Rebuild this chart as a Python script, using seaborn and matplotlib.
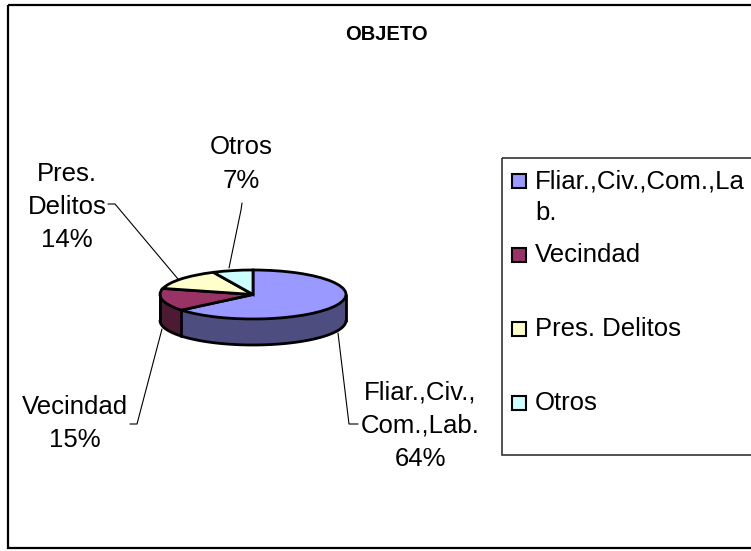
import numpy as np
import matplotlib
matplotlib.use("Agg")
import matplotlib.pyplot as plt
from matplotlib.patches import Rectangle
import seaborn as sns

categorias = ["Fliar.,Civ.,Com.,Lab.", "Vecindad", "Pres. Delitos", "Otros"]
valores = [64, 15, 14, 7]
etiquetas_leyenda = ["Fliar.,Civ.,Com.,La\nb.", "Vecindad", "Pres. Delitos", "Otros"]
colores = ["#9999ff", "#993366", "#ffffcc", "#ccffff"]
colores_lado = ["#4d4d80", "#4d1a33"]

W, H = 751, 551

sns.set_theme(style="white")
plt.rcParams["font.family"] = ["Liberation Sans", "DejaVu Sans"]

fig = plt.figure(figsize=(W / 100, H / 100), dpi=100)

# capa de fondo en pixeles, para marco, textos y leyenda
fondo = fig.add_axes([0, 0, 1, 1])
fondo.set_xlim(0, W)
fondo.set_ylim(H, 0)
fondo.axis("off")
# el borde derecho queda fuera de la imagen
fondo.add_patch(Rectangle((8, 4.5), 760, 543.5, fill=False, ec="black", lw=1.6))
fondo.text(386, 34.5, "OBJETO", fontsize=14.5, fontweight="bold", color="black",
           ha="center", va="center")

# torta aplastada: los ejes cubren solo la elipse superior
x0, x1, y0, y1 = 160, 346, 270, 319
prof = 26 / ((y1 - y0) / 2)
ax = fig.add_axes([x0 / W, 1 - y1 / H, (x1 - x0) / W, (y1 - y0) / H])
ax.patch.set_alpha(0)

# pared lateral, solo la mitad frontal se ve
angulos = 90 - np.cumsum([0] + valores) * 3.6
for i in range(2):
    ini, fin = angulos[i + 1] % 360, angulos[i] % 360
    a = np.radians(np.linspace(max(ini, 180), 360 if i == 0 else fin, 60))
    xs = np.cos(a)
    ys = np.sin(a)
    ax.fill_between(xs, ys - prof, ys, color=colores_lado[i], lw=0, clip_on=False)
    ax.plot(xs, ys - prof, color="black", lw=2, clip_on=False)
    ax.plot([xs[0], xs[0]], [ys[0], ys[0] - prof], color="black", lw=2, clip_on=False)
ax.plot([1, 1], [0, -prof], color="black", lw=2, clip_on=False)
ax.plot([-1, -1], [0, -prof], color="black", lw=2, clip_on=False)

ax.pie(valores, colors=colores, startangle=90, counterclock=False, radius=1,
       wedgeprops={"edgecolor": "black", "linewidth": 2, "clip_on": False})
ax.set_aspect("auto")
ax.set_xlim(-1, 1)
ax.set_ylim(-1, 1)
ax.axis("off")

# rotulos de datos con sus lineas guia
tam = 18.5
rotulos = [
    ("Fliar.,Civ.,\nCom.,Lab.\n%d%%" % valores[0], 420, 426),
    ("Vecindad\n%d%%" % valores[1], 75, 423.5),
    ("Pres.\nDelitos\n%d%%" % valores[2], 67, 207),
    ("Otros\n%d%%" % valores[3], 241, 164),
]
for texto, x, y in rotulos:
    fondo.text(x, y, texto, fontsize=tam, color="black", ha="center", va="center",
               linespacing=1.48)
guias = [
    ([338, 349, 358], [333, 424, 424]),
    ([162, 137, 130], [329, 424, 424]),
    ([108, 115, 178], [204, 204, 279]),
    ([229, 241, 242], [268, 210, 203]),
]
for xs, ys in guias:
    fondo.plot(xs, ys, color="black", lw=0.8)

# leyenda, tambien cortada por el borde derecho
fondo.add_patch(Rectangle((501.5, 158), 270, 296.5, fill=False, ec="#333333", lw=1.2))
lineas_base = [188, 262, 336, 410]
for etiqueta, color, y in zip(etiquetas_leyenda, colores, lineas_base):
    fondo.add_patch(Rectangle((511.5, y - 14), 14, 14, fc=color, ec="black", lw=1.5))
    for n, parte in enumerate(etiqueta.split("\n")):
        fondo.text(535, y + 32 * n, parte, fontsize=tam, color="black", ha="left",
                   va="baseline")

fig.savefig("out.png", dpi=100, facecolor="white")
